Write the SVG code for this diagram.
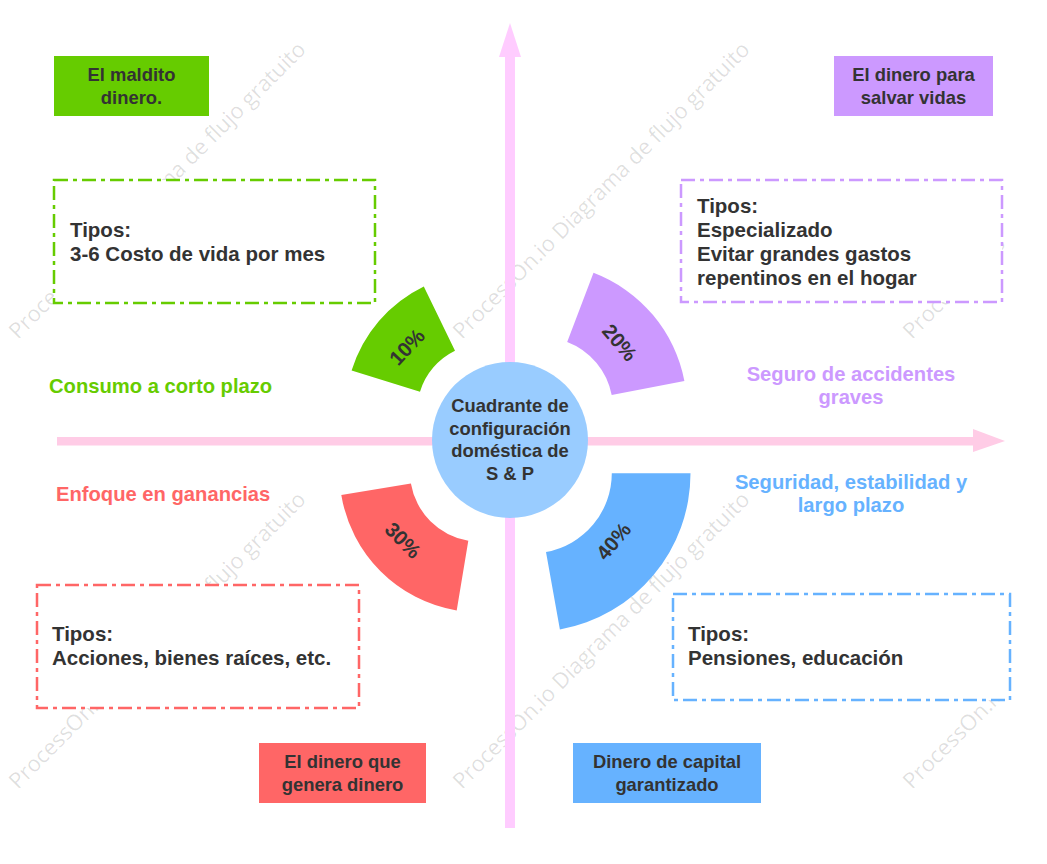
<svg xmlns="http://www.w3.org/2000/svg" width="1047" height="864" viewBox="0 0 1047 864">
<style>
text{font-family:"Liberation Sans",Arial,sans-serif;font-weight:bold;}
.t{fill:#333333;font-size:20.5px;}
.lb{fill:#333333;font-size:18.4px;text-anchor:middle;}
.ct{fill:#333333;font-size:18.4px;text-anchor:middle;}
.pc{fill:#333333;font-size:20.5px;text-anchor:middle;dominant-baseline:central;}
.side{font-size:20.2px;}
.dash{fill:#ffffff;stroke-width:2.5;stroke-dasharray:14 5 4 5;}
.wm{fill:#000000;fill-opacity:0.13;font-size:22px;font-weight:normal;font-family:"Open Sans","Noto Sans",sans-serif;}
</style>
<rect width="1047" height="864" fill="#ffffff"/>
<g id="watermarks">
<text class="wm" transform="translate(18,340) rotate(-45)">ProcessOn.io Diagrama de flujo gratuito</text>
<text class="wm" transform="translate(462,340) rotate(-45)">ProcessOn.io Diagrama de flujo gratuito</text>
<text class="wm" transform="translate(912,340) rotate(-45)">ProcessOn.io</text>
<text class="wm" transform="translate(18,790) rotate(-45)">ProcessOn.io Diagrama de flujo gratuito</text>
<text class="wm" transform="translate(462,790) rotate(-45)">ProcessOn.io Diagrama de flujo gratuito</text>
<text class="wm" transform="translate(912,790) rotate(-45)">ProcessOn.io</text>
</g>
<g id="connectors">
<rect x="505" y="56" width="10" height="772" fill="#FFCCFF"/>
<polygon points="510,23 499,57 521,57" fill="#FFCCFF"/>
<rect x="57" y="437" width="917" height="8.5" fill="#FFCCE6"/>
<polygon points="1005,441 973,429 973,452" fill="#FFCCE6"/>
</g>
<g id="center">
<circle cx="510" cy="440" r="78" fill="#99CCFF"/>
<text class="ct" x="510" y="412">Cuadrante de<tspan x="510" dy="22.5">configuración</tspan><tspan x="510" dy="22.5">doméstica de</tspan><tspan x="510" dy="22.5">S &amp; P</tspan></text>
</g>
<g id="sector10">
<path d="M351.6,370.6 A139,139 0 0 1 423.8,286.5 L455,350.8 A67.5,67.5 0 0 0 420,391.7 Z" fill="#66CC00"/>
<text class="pc" transform="translate(406.7,346.7) rotate(-47)">10%</text>
</g>
<g id="sector20">
<path d="M593.5,272.8 A145,145 0 0 1 684.4,381.1 L611.7,395 A71,71 0 0 0 567.2,341.9 Z" fill="#CC99FF"/>
<text class="pc" transform="translate(620,342.3) rotate(50)">20%</text>
</g>
<g id="sector30">
<path d="M456.7,610.4 A140.5,140.5 0 0 1 341.3,495 L410.9,483.4 A70,70 0 0 0 468.3,540.8 Z" fill="#FF6666"/>
<text class="pc" transform="translate(403.3,540) rotate(45)">30%</text>
</g>
<g id="sector40">
<path d="M690.5,473.3 A158.7,158.7 0 0 1 559.9,629.5 L546,552 A80,80 0 0 0 611.8,473.3 Z" fill="#66B2FF"/>
<text class="pc" transform="translate(613.3,541) rotate(-50)">40%</text>
</g>
<g id="label-green">
<rect x="54" y="56" width="155" height="60" fill="#66CC00"/>
<text class="lb" x="131.5" y="81">El maldito<tspan x="131.5" dy="23">dinero.</tspan></text>
</g>
<g id="label-purple">
<rect x="834" y="56" width="159" height="60" fill="#CC99FF"/>
<text class="lb" x="913.5" y="81">El dinero para<tspan x="913.5" dy="23">salvar vidas</tspan></text>
</g>
<g id="label-red">
<rect x="259" y="743" width="167" height="60" fill="#FF6666"/>
<text class="lb" x="342.5" y="768">El dinero que<tspan x="342.5" dy="23">genera dinero</tspan></text>
</g>
<g id="label-blue">
<rect x="573" y="743" width="188" height="60" fill="#66B2FF"/>
<text class="lb" x="667" y="768">Dinero de capital<tspan x="667" dy="23">garantizado</tspan></text>
</g>
<g id="box-green">
<rect class="dash" x="54" y="180" width="321" height="123" stroke="#66CC00"/>
<text class="t" x="70" y="237">Tipos:<tspan x="70" dy="24">3-6 Costo de vida por mes</tspan></text>
</g>
<g id="box-purple">
<rect class="dash" x="681" y="180" width="321" height="122" stroke="#CC99FF"/>
<text class="t" x="697" y="213">Tipos:<tspan x="697" dy="24">Especializado</tspan><tspan x="697" dy="24">Evitar grandes gastos</tspan><tspan x="697" dy="24">repentinos en el hogar</tspan></text>
</g>
<g id="box-red">
<rect class="dash" x="37" y="585" width="322" height="123" stroke="#FF6666"/>
<text class="t" x="52" y="641">Tipos:<tspan x="52" dy="24">Acciones, bienes raíces, etc.</tspan></text>
</g>
<g id="box-blue">
<rect class="dash" x="673" y="594" width="337" height="106" stroke="#66B2FF"/>
<text class="t" x="688" y="641">Tipos:<tspan x="688" dy="24">Pensiones, educación</tspan></text>
</g>
<g id="text-green">
<text class="side" x="49" y="393" fill="#66CC00">Consumo a corto plazo</text>
</g>
<g id="text-red">
<text class="side" x="56" y="501" fill="#FF6666">Enfoque en ganancias</text>
</g>
<g id="text-purple">
<text class="side" x="851" y="381" fill="#CC99FF" text-anchor="middle">Seguro de accidentes<tspan x="851" dy="23">graves</tspan></text>
</g>
<g id="text-blue">
<text class="side" x="851" y="489" fill="#66B2FF" text-anchor="middle">Seguridad, estabilidad y<tspan x="851" dy="23">largo plazo</tspan></text>
</g>
</svg>
